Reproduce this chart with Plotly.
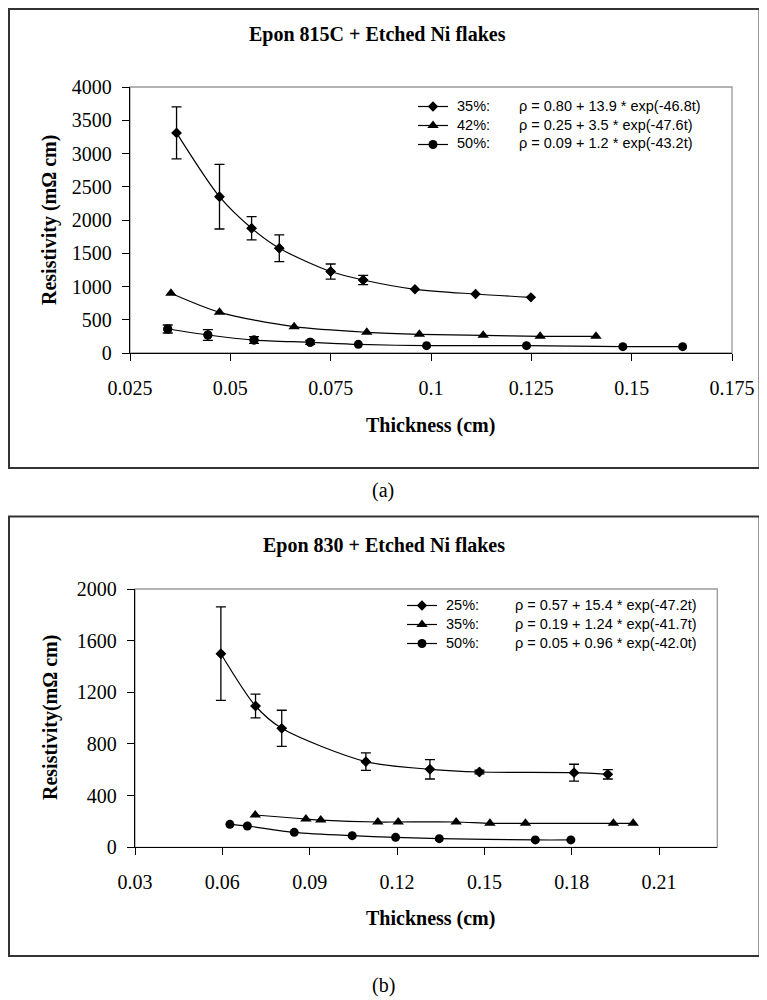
import plotly.graph_objects as go

# ---------- (a) Epon 815C + Etched Ni flakes ----------
a_labels = ["35%:", "42%:", "50%:"]
a_eqs = ["\u03c1 = 0.80 + 13.9 * exp(-46.8t)",
         "\u03c1 = 0.25 + 3.5 * exp(-47.6t)",
         "\u03c1 = 0.09 + 1.2 * exp(-43.2t)"]
a35_x = [0.0366, 0.0473, 0.0553, 0.0622, 0.0750, 0.0831, 0.0960, 0.1111, 0.1249]
a35_y = [3310, 2350, 1875, 1575, 1225, 1098, 958, 887, 837]
a35_e = [390, 485, 175, 200, 113, 70, 0, 0, 0]
a42_x = [0.0352, 0.0473, 0.0659, 0.0840, 0.0971, 0.1130, 0.1272, 0.1411]
a42_y = [898, 612, 396, 311, 281, 266, 251, 251]
a42_e = [0, 0, 0, 0, 0, 0, 0, 0]
a50_x = [0.0344, 0.0444, 0.0559, 0.0699, 0.0819, 0.0989, 0.1238, 0.1478, 0.1627]
a50_y = [361, 271, 195, 161, 130, 110, 110, 95, 95]
a50_e = [60, 80, 50, 30, 0, 0, 0, 0, 0]
a_xticks = [0.025, 0.05, 0.075, 0.1, 0.125, 0.15, 0.175]
a_xticktext = ["0.025", "0.05", "0.075", "0.1", "0.125", "0.15", "0.175"]
a_yticks = [0, 500, 1000, 1500, 2000, 2500, 3000, 3500, 4000]

# ---------- (b) Epon 830 + Etched Ni flakes ----------
b_labels = ["25%:", "35%:", "50%:"]
b_eqs = ["\u03c1 = 0.57 + 15.4 * exp(-47.2t)",
         "\u03c1 = 0.19 + 1.24 * exp(-41.7t)",
         "\u03c1 = 0.05 + 0.96 * exp(-42.0t)"]
b25_x = [0.0595, 0.0714, 0.0804, 0.1093, 0.1313, 0.1483, 0.1808, 0.1924]
b25_y = [1499, 1094, 921, 663, 604, 583, 578, 565]
b25_e = [362, 92, 140, 68, 75, 15, 65, 36]
b35_x = [0.0713, 0.0887, 0.0938, 0.1134, 0.1204, 0.1403, 0.1519, 0.1641, 0.1943, 0.2011]
b35_y = [250, 219, 211, 196, 196, 196, 186, 186, 186, 186]
b35_e = [0, 0, 0, 0, 0, 0, 0, 0, 0, 0]
b50_x = [0.0626, 0.0686, 0.0847, 0.1046, 0.1195, 0.1345, 0.1675, 0.1797]
b50_y = [178, 165, 116, 90, 77, 67, 57, 57]
b50_e = [0, 0, 0, 0, 0, 0, 0, 0]
b_xticks = [0.03, 0.06, 0.09, 0.12, 0.15, 0.18, 0.21]
b_xticktext = ["0.03", "0.06", "0.09", "0.12", "0.15", "0.18", "0.21"]
b_yticks = [0, 400, 800, 1200, 1600, 2000]

W, H = 767, 1000
OFF = 8  # page body margin
def px(x):
    return (x - OFF) / W
def py(y):
    return 1 - (y - OFF) / H

SERIF = "Liberation Serif, Times New Roman, serif"
SANS = "Liberation Sans, Arial, sans-serif"

fig = go.Figure()

def add_series(xs, ys, es, symbol, size, xa, ya, legend):
    ex = [x for x, e in zip(xs, es) if e > 0]
    ey = [y for y, e in zip(ys, es) if e > 0]
    ee = [e for e in es if e > 0]
    if ee:
        fig.add_trace(go.Scatter(
            x=ex, y=ey, mode="markers", xaxis=xa, yaxis=ya, showlegend=False,
            marker=dict(symbol=symbol, size=size, color="black"),
            error_y=dict(type="data", array=ee, visible=True, color="black",
                         thickness=1.3, width=5),
            hoverinfo="skip"))
    fig.add_trace(go.Scatter(
        x=xs, y=ys, name=" ", mode="lines+markers", xaxis=xa, yaxis=ya,
        legend=legend, showlegend=True,
        line=dict(color="black", width=1.2, shape="spline", smoothing=0.8),
        marker=dict(symbol=symbol, size=size, color="black")))

add_series(a35_x, a35_y, a35_e, "diamond", 8, "x", "y", "legend")
add_series(a42_x, a42_y, a42_e, "triangle-up", 10, "x", "y", "legend")
add_series(a50_x, a50_y, a50_e, "circle", 9, "x", "y", "legend")
add_series(b25_x, b25_y, b25_e, "diamond", 8, "x2", "y2", "legend2")
add_series(b35_x, b35_y, b35_e, "triangle-up", 10, "x2", "y2", "legend2")
add_series(b50_x, b50_y, b50_e, "circle", 9, "x2", "y2", "legend2")

axis_common = dict(showline=True, linecolor="black", linewidth=1.3, ticks="outside",
                   ticklen=7, tickwidth=1.2, tickcolor="black", showgrid=False,
                   zeroline=False, automargin=False,
                   tickfont=dict(family=SERIF, size=20, color="black"))

fig.update_layout(
    width=W, height=H, margin=dict(l=0, r=0, t=0, b=0, pad=0, autoexpand=False),
    paper_bgcolor="white", plot_bgcolor="white", showlegend=True,
    xaxis=dict(domain=[px(130), px(732)], range=[0.025, 0.175], tickvals=a_xticks,
               ticktext=a_xticktext, anchor="y", ticklabelstandoff=10, **axis_common),
    yaxis=dict(domain=[py(353), py(87)], range=[0, 4000], tickvals=a_yticks,
               anchor="x", ticklabelstandoff=6, **axis_common),
    xaxis2=dict(domain=[px(135), px(717.3)], range=[0.03, 0.23], tickvals=b_xticks,
                ticktext=b_xticktext, anchor="y2", ticklabelstandoff=10, **axis_common),
    yaxis2=dict(domain=[py(847.3), py(589)], range=[0, 2000], tickvals=b_yticks,
                anchor="x2", ticklabelstandoff=6, **axis_common),
    legend=dict(x=px(413), y=py(92), xanchor="left", yanchor="top",
                bgcolor="rgba(0,0,0,0)", borderwidth=0, tracegroupgap=0,
                itemwidth=30, font=dict(family=SANS, size=8, color="black")),
    legend2=dict(x=px(402), y=py(591), xanchor="left", yanchor="top",
                 bgcolor="rgba(0,0,0,0)", borderwidth=0, tracegroupgap=0,
                 itemwidth=30, font=dict(family=SANS, size=8, color="black")),
)

shapes = [
    dict(type="rect", xref="paper", yref="paper", x0=px(9), x1=px(759.5),
         y0=py(468), y1=py(9), line=dict(color="#333", width=2)),
    dict(type="rect", xref="paper", yref="paper", x0=px(9), x1=px(759.5),
         y0=py(956), y1=py(516.5), line=dict(color="#333", width=2)),
    dict(type="rect", xref="x domain", yref="y domain", x0=0, x1=1, y0=0, y1=1,
         line=dict(color="#999", width=1.3), layer="below"),
    dict(type="rect", xref="x2 domain", yref="y2 domain", x0=0, x1=1, y0=0, y1=1,
         line=dict(color="#999", width=1.3), layer="below"),
]
fig.update_layout(shapes=shapes)

ann = []
def text(x, y, s, font, xanchor="center", angle=0):
    ann.append(dict(x=px(x), y=py(y), xref="paper", yref="paper", text=s,
                    showarrow=False, xanchor=xanchor, yanchor="middle",
                    textangle=angle, font=font))

bold20 = dict(family=SERIF, size=20, color="black", weight="bold")
text(377, 34, "Epon 815C + Etched Ni flakes", bold20)
text(430, 425, "Thickness (cm)", bold20)
text(50, 220, "Resistivity (m\u03a9 cm)", bold20, angle=-90)
text(383, 490, "(a)", dict(family=SERIF, size=20, color="black"))
text(384, 545, "Epon 830 + Etched Ni flakes", bold20)
text(430, 918, "Thickness (cm)", bold20)
text(50, 718, "Resistivity(m\u03a9 cm)", bold20, angle=-90)
text(383, 985, "(b)", dict(family=SERIF, size=20, color="black"))

sans14 = dict(family=SANS, size=14.5, color="black")
for lab, eq, yy in zip(a_labels, a_eqs, [106, 125, 143]):
    text(455, yy, lab, sans14, xanchor="left")
    text(517, yy, eq, sans14, xanchor="left")
for lab, eq, yy in zip(b_labels, b_eqs, [605, 624, 643]):
    text(444, yy, lab, sans14, xanchor="left")
    text(513, yy, eq, sans14, xanchor="left")
fig.update_layout(annotations=ann)

fig.write_html("out.html")
